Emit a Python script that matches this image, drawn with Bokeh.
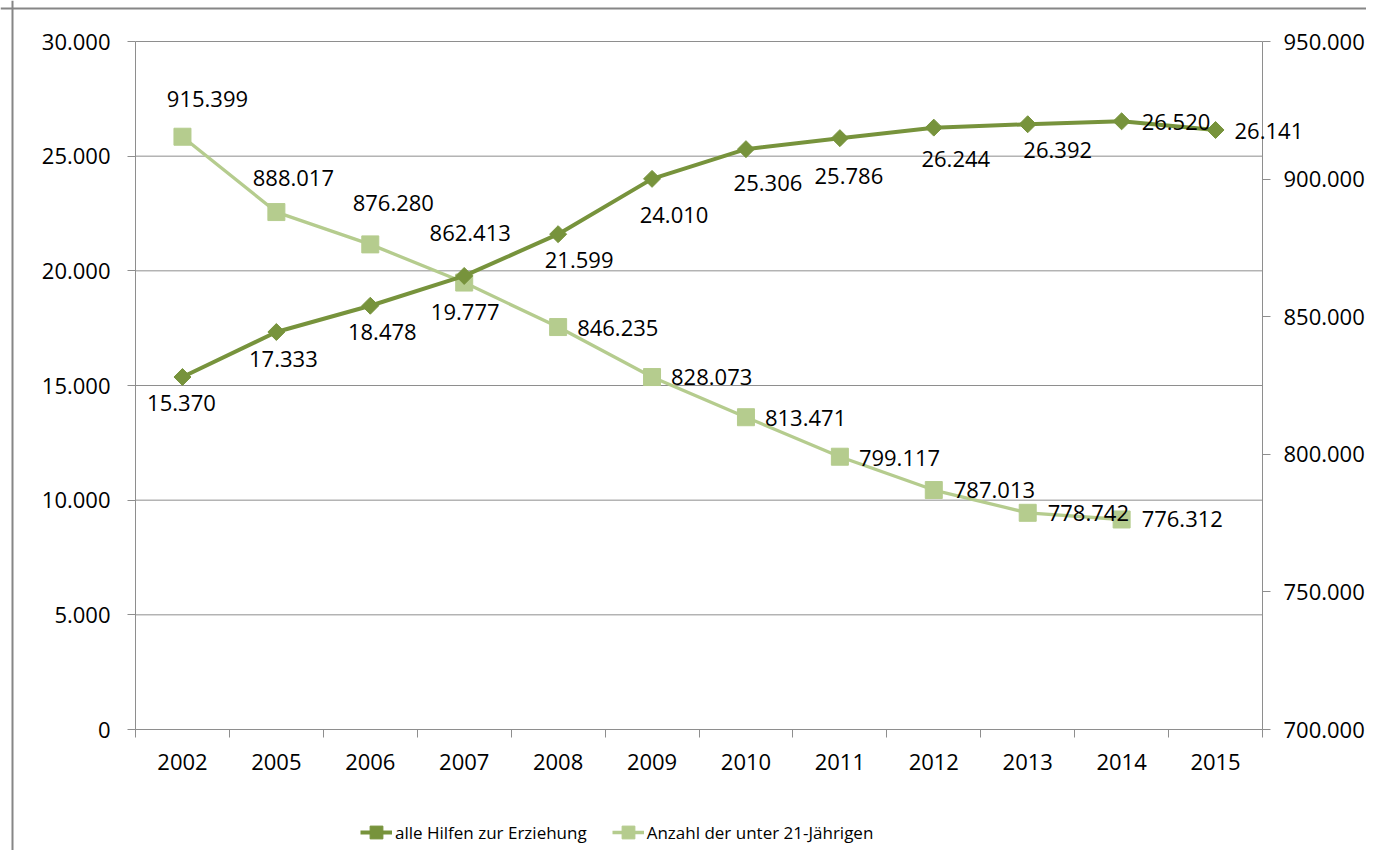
import math
from bokeh.plotting import figure
from bokeh.models import (Range1d, LinearAxis, FixedTicker, ColumnDataSource, Label,
                          Legend, LegendItem, Span)
from bokeh.embed import file_html
from bokeh.resources import INLINE

# ---- data ----
years = ["2002", "2005", "2006", "2007", "2008", "2009", "2010", "2011", "2012", "2013", "2014", "2015"]
hilfen = [15370, 17333, 18478, 19777, 21599, 24010, 25306, 25786, 26244, 26392, 26520, 26141]
anzahl = [915399, 888017, 876280, 862413, 846235, 828073, 813471, 799117, 787013, 778742, 776312]
left_ticks = [0, 5000, 10000, 15000, 20000, 25000, 30000]
right_ticks = [700000, 750000, 800000, 850000, 900000, 950000]
series_names = ["alle Hilfen zur Erziehung", "Anzahl der unter 21-Jährigen"]

# ---- styles / layout ----
FONT = "Open Sans"
FS = "22px"
DARK = "#77933C"
LIGHT = "#B5CC8E"
GRID = "#8E8E8E"
BORDER = "#868686"
W, H = 1366, 850
PX_L, PX_R, PX_T, PX_B = 135, 1262, 41, 729   # plot-area edges in canvas px

def fmt(v):
    return f"{v:,}".replace(",", ".")

# label offsets (screen px): (dx, dy_up, align)
h_off = [(-1, -26, "center"), (7, -27, "center"), (12, -26, "center"), (1, -36, "center"),
         (21, -26, "center"), (22, -36, "center"), (22, -34, "center"), (9, -38, "center"),
         (22, -31, "center"), (30, -26, "center"), (20, -1, "left"), (19, -1, "left")]
a_off = [(25, 38, "center"), (17, 34, "center"), (23, 41, "center"), (6, 50, "center"),
         (19, -1, "left"), (19, 0, "left"), (19, -1, "left"), (19, -1, "left"),
         (20, 0, "left"), (20, 0, "left"), (20, 0, "left")]

n = len(years)
x_lo, x_hi = -0.5, n - 0.5
ux = (PX_R - PX_L) / (x_hi - x_lo)
y_lo, y_hi = left_ticks[0], left_ticks[-1]
uy = (PX_B - PX_T) / (y_hi - y_lo)
r_lo, r_hi = right_ticks[0], right_ticks[-1]
ur = (PX_B - PX_T) / (r_hi - r_lo)

p = figure(width=W, height=H, output_backend="svg", toolbar_location=None,
           x_range=Range1d(x_lo - PX_L / ux, x_hi + (W - PX_R) / ux),
           y_range=Range1d(y_lo - (H - PX_B) / uy, y_hi + PX_T / uy),
           min_border=0)
p.extra_y_ranges = {"right": Range1d(r_lo - (H - PX_B) / ur, r_hi + PX_T / ur)}
p.outline_line_color = None
p.background_fill_color = "white"
p.border_fill_color = "white"
p.xgrid.visible = False
p.ygrid.visible = False

xs = list(range(n))

# x axis
xa = p.xaxis[0]
xa.fixed_location = y_lo
xa.bounds = (x_lo, x_hi)
xa.ticker = FixedTicker(ticks=xs, minor_ticks=[i - 0.5 for i in range(n + 1)])
xa.major_label_overrides = {i: y for i, y in enumerate(years)}
xa.major_tick_out = 0
xa.major_tick_in = 0
xa.minor_tick_out = 8
xa.minor_tick_in = 0
xa.minor_tick_line_color = GRID
xa.axis_line_color = GRID
xa.major_label_standoff = 16
xa.major_label_text_font = FONT
xa.major_label_text_font_size = FS
xa.major_label_text_color = "black"

# left y axis
ya = p.yaxis[0]
ya.fixed_location = x_lo
ya.bounds = (y_lo, y_hi)
ya.ticker = FixedTicker(ticks=left_ticks, minor_ticks=[])
ya.major_label_overrides = {v: fmt(v) for v in left_ticks}
ya.major_tick_out = 8
ya.major_tick_in = 0
ya.minor_tick_line_color = None
ya.major_tick_line_color = GRID
ya.axis_line_color = GRID
ya.major_label_standoff = 17
ya.major_label_text_font = FONT
ya.major_label_text_font_size = FS
ya.major_label_text_color = "black"

# right y axis
ra = LinearAxis(y_range_name="right", fixed_location=x_hi, bounds=(r_lo, r_hi),
                ticker=FixedTicker(ticks=right_ticks, minor_ticks=[]))
ra.major_label_overrides = {v: fmt(v) for v in right_ticks}
ra.major_tick_out = 8
ra.major_tick_in = 0
ra.minor_tick_line_color = None
ra.major_tick_line_color = GRID
ra.axis_line_color = GRID
ra.major_label_standoff = 13
ra.major_label_text_font = FONT
ra.major_label_text_font_size = FS
ra.major_label_text_color = "black"
p.add_layout(ra, "right")

# horizontal gridlines at the left-axis ticks
p.segment(x0=[x_lo] * len(left_ticks), x1=[x_hi] * len(left_ticks),
          y0=left_ticks, y1=left_ticks, line_color=GRID, line_width=1, level="underlay")

# series
hs = ColumnDataSource(dict(x=xs, y=hilfen))
as_ = ColumnDataSource(dict(x=xs[:len(anzahl)], y=anzahl))

l2 = p.line("x", "y", source=as_, y_range_name="right", line_color=LIGHT, line_width=3.3)
m2 = p.scatter("x", "y", source=as_, y_range_name="right", marker="square", size=17,
               fill_color=LIGHT, line_color=LIGHT)
l1 = p.line("x", "y", source=hs, line_color=DARK, line_width=4)
m1 = p.scatter("x", "y", source=hs, marker="square", size=12, angle=math.pi / 4,
               fill_color=DARK, line_color=DARK)

for vals, offs, rng in ((hilfen, h_off, "default"), (anzahl, a_off, "right")):
    for i, v in enumerate(vals):
        dx, dy, al = offs[i]
        p.add_layout(Label(x=xs[i], y=v, y_range_name=rng, text=fmt(v),
                           x_offset=dx, y_offset=dy, text_align=al, text_baseline="middle",
                           text_font=FONT, text_font_size=FS, text_color="black"))

legend = Legend(items=[LegendItem(label=series_names[0], renderers=[l1, m1]),
                       LegendItem(label=series_names[1], renderers=[l2, m2])],
                orientation="horizontal", location=(360, 1))
legend.label_text_font = FONT
legend.label_text_font_size = "17px"
legend.label_text_color = "black"
legend.glyph_width = 32
legend.glyph_height = 34
legend.label_standoff = 3
legend.spacing = 25
legend.padding = 8
legend.margin = 0
legend.border_line_color = None
legend.background_fill_alpha = 0
p.add_layout(legend, "center")

# outer chart border (left and top edges; the others lie outside the picture)
p.add_layout(Span(location=12, location_units="canvas", dimension="height",
                  line_color=BORDER, line_width=2))
p.add_layout(Span(location=8, location_units="canvas", dimension="width",
                  line_color=BORDER, line_width=2))

open("out.html", "w").write(file_html(p, INLINE))
